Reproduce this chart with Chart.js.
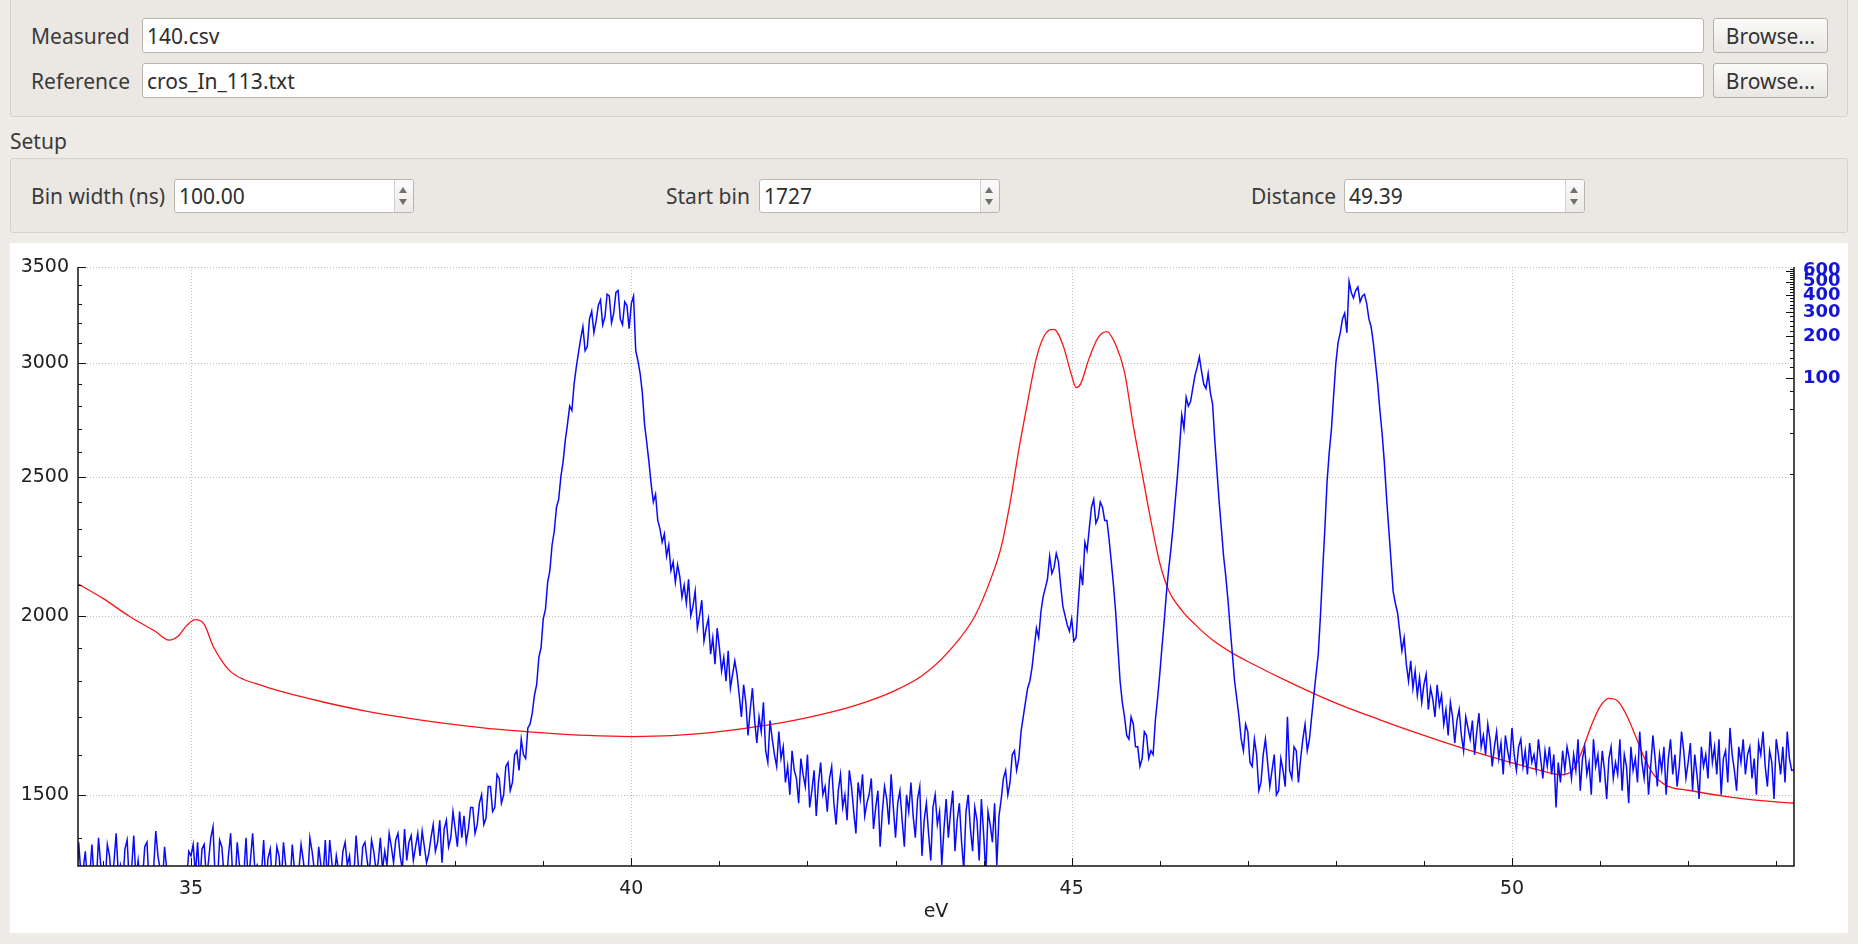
<!DOCTYPE html>
<html>
<head>
<meta charset="utf-8">
<script src="https://cdn.jsdelivr.net/npm/chart.js@4.4.1/dist/chart.umd.min.js"></script>
<style>
  html,body{margin:0;padding:0;}
  body{width:1858px;height:944px;background:#efece8;position:relative;overflow:hidden;
       font-family:"Noto Sans","Open Sans",sans-serif;font-size:21px;color:#3a3a3a;}
  .box{position:absolute;border:1px solid #d6d2cc;border-radius:3px;background:#ebe8e4;box-sizing:border-box;}
  .lbl{position:absolute;line-height:26px;white-space:nowrap;}
  .field{position:absolute;background:#fff;border:1px solid #b9b5af;border-radius:3px;box-sizing:border-box;}
  .field span{position:absolute;left:4px;top:50%;transform:translateY(-50%);line-height:26px;color:#2e2e2e;white-space:nowrap;}
  .btn{position:absolute;border:1px solid #b3afa9;border-radius:3px;box-sizing:border-box;
       background:linear-gradient(#fbfbfa,#e9e7e4);text-align:center;color:#333;}
  .btn span{position:absolute;left:0;right:0;top:50%;transform:translateY(-50%);line-height:26px;}
  .arr{position:absolute;right:0;top:0;bottom:0;width:18px;border-left:1px solid #d3cfca;background:linear-gradient(#fbfbfb,#eceae7);border-radius:0 3px 3px 0;}
  .up{position:absolute;left:4px;top:7px;width:0;height:0;border-left:4px solid transparent;border-right:4px solid transparent;border-bottom:6px solid #707070;}
  .dn{position:absolute;left:4px;bottom:7px;width:0;height:0;border-left:4px solid transparent;border-right:4px solid transparent;border-top:6px solid #707070;}
  #plotPanel{position:absolute;left:10px;top:243px;width:1838px;height:690px;background:#fff;}
  #c{position:absolute;left:0;top:0;}
</style>
</head>
<body>
<div class="box" style="left:10px;top:-8px;width:1838px;height:125px;"></div>
<div class="lbl" style="left:31px;top:23px;">Measured</div>
<div class="field" style="left:142px;top:18px;width:1562px;height:35px;"><span>140.csv</span></div>
<div class="btn" style="left:1713px;top:18px;width:115px;height:35px;"><span>Browse...</span></div>
<div class="lbl" style="left:31px;top:68px;">Reference</div>
<div class="field" style="left:142px;top:63px;width:1562px;height:35px;"><span>cros_In_113.txt</span></div>
<div class="btn" style="left:1713px;top:63px;width:115px;height:35px;"><span>Browse...</span></div>

<div class="lbl" style="left:10px;top:128px;">Setup</div>
<div class="box" style="left:10px;top:158px;width:1838px;height:75px;"></div>
<div class="lbl" style="left:31px;top:183px;">Bin width (ns)</div>
<div class="field" style="left:174px;top:179px;width:240px;height:34px;"><span>100.00</span><div class="arr"><i class="up"></i><i class="dn"></i></div></div>
<div class="lbl" style="left:666px;top:183px;">Start bin</div>
<div class="field" style="left:759px;top:179px;width:241px;height:34px;"><span>1727</span><div class="arr"><i class="up"></i><i class="dn"></i></div></div>
<div class="lbl" style="left:1251px;top:183px;">Distance</div>
<div class="field" style="left:1344px;top:179px;width:241px;height:34px;"><span>49.39</span><div class="arr"><i class="up"></i><i class="dn"></i></div></div>

<div id="plotPanel"><canvas id="c" width="1838" height="690"></canvas></div>

<script>
// ---------- data ----------
const xMajor = [35, 40, 45, 50];
const xMinor = [34, 36, 37, 38, 39, 41, 42, 43, 44, 46, 47, 48, 49, 51, 52, 53];
const yMajor = [1500, 2000, 2500, 3000, 3500];
const yMinor = [1400, 1600, 1700, 1800, 1900, 2100, 2200, 2300, 2400, 2600, 2700, 2800, 2900, 3100, 3200, 3300, 3400];
const y2Major = [100, 200, 300, 400, 500, 600];
const y2Minor = [20, 40, 60, 80, 120, 140, 160, 180, 220, 240, 260, 280, 320, 340, 360, 380, 420, 440, 460, 480, 520, 540, 560, 580, 620];

// Reference cross-section (red)
const redEv = [33.72, 34.0, 34.3, 34.6, 34.75, 34.85, 34.95, 35.05, 35.15, 35.25, 35.35, 35.45, 35.6, 35.8, 36.0, 36.5, 37.0, 37.5, 38.0, 38.5,
  39.0, 39.5, 40.0, 40.5, 41.0, 41.5, 42.0, 42.5, 43.0, 43.3, 43.6, 43.9, 44.1, 44.2, 44.3, 44.4, 44.5, 44.6, 44.7, 44.8,
  44.9, 45.0, 45.05, 45.1, 45.2, 45.3, 45.4, 45.5, 45.6, 45.7, 45.8, 45.9, 46.0, 46.1, 46.25, 46.4, 46.6, 46.8, 47.0, 47.5,
  48.0, 48.5, 49.0, 49.5, 50.0, 50.3, 50.55, 50.7, 50.8, 50.9, 51.0, 51.1, 51.2, 51.3, 51.4, 51.5, 51.6, 51.75, 52.0, 52.5,
  53.0, 53.23];
const redVal = [2104, 2056, 1998, 1949, 1923, 1934, 1968, 1987, 1972, 1905, 1860, 1828, 1805, 1788, 1772, 1741, 1715, 1695, 1679, 1666,
  1657, 1650, 1647, 1650, 1660, 1676, 1698, 1728, 1774, 1816, 1887, 1998, 2136, 2233, 2396, 2611, 2818, 3025, 3143, 3167,
  3089, 2940, 2884, 2900, 3025, 3125, 3155, 3089, 2957, 2712, 2513, 2328, 2177, 2084, 2017, 1972, 1923, 1887, 1858, 1794,
  1738, 1692, 1650, 1612, 1579, 1561, 1549, 1564, 1612, 1676, 1728, 1751, 1744, 1705, 1650, 1593, 1552, 1523, 1511, 1494,
  1483, 1480];

// Measured spectrum (blue)
const blueEv = [
  33.7,33.725,33.75,33.775,33.8,33.825,33.85,33.875,33.9,33.925,33.95,33.975,34,34.025,34.05,34.075,34.1,34.125,34.15,34.175,
  34.2,34.225,34.25,34.275,34.3,34.325,34.35,34.375,34.4,34.425,34.45,34.475,34.5,34.525,34.55,34.575,34.6,34.625,34.65,34.675,
  34.7,34.725,34.75,34.775,34.8,34.825,34.85,34.875,34.9,34.925,34.95,34.975,35,35.025,35.05,35.075,35.1,35.125,35.15,35.175,
  35.2,35.225,35.25,35.275,35.3,35.325,35.35,35.375,35.4,35.425,35.45,35.475,35.5,35.525,35.55,35.575,35.6,35.625,35.65,35.675,
  35.7,35.725,35.75,35.775,35.8,35.825,35.85,35.875,35.9,35.925,35.95,35.975,36,36.025,36.05,36.075,36.1,36.125,36.15,36.175,
  36.2,36.225,36.25,36.275,36.3,36.325,36.35,36.375,36.4,36.425,36.45,36.475,36.5,36.525,36.55,36.575,36.6,36.625,36.65,36.675,
  36.7,36.725,36.75,36.775,36.8,36.825,36.85,36.875,36.9,36.925,36.95,36.975,37,37.025,37.05,37.075,37.1,37.125,37.15,37.175,
  37.2,37.225,37.25,37.275,37.3,37.325,37.35,37.375,37.4,37.425,37.45,37.475,37.5,37.525,37.55,37.575,37.6,37.625,37.65,37.675,
  37.7,37.725,37.75,37.775,37.8,37.825,37.85,37.875,37.9,37.925,37.95,37.975,38,38.025,38.05,38.075,38.1,38.125,38.15,38.175,
  38.2,38.225,38.25,38.275,38.3,38.325,38.35,38.375,38.4,38.425,38.45,38.475,38.5,38.525,38.55,38.575,38.6,38.625,38.65,38.675,
  38.7,38.725,38.75,38.775,38.8,38.825,38.85,38.875,38.9,38.925,38.95,38.975,39,39.025,39.05,39.075,39.1,39.125,39.15,39.175,
  39.2,39.225,39.25,39.275,39.3,39.325,39.35,39.375,39.4,39.425,39.45,39.475,39.5,39.525,39.55,39.575,39.6,39.625,39.65,39.675,
  39.7,39.725,39.75,39.775,39.8,39.825,39.85,39.875,39.9,39.925,39.95,39.975,40,40.025,40.05,40.075,40.1,40.125,40.15,40.175,
  40.2,40.225,40.25,40.275,40.3,40.325,40.35,40.375,40.4,40.425,40.45,40.475,40.5,40.525,40.55,40.575,40.6,40.625,40.65,40.675,
  40.7,40.725,40.75,40.775,40.8,40.825,40.85,40.875,40.9,40.925,40.95,40.975,41,41.025,41.05,41.075,41.1,41.125,41.15,41.175,
  41.2,41.225,41.25,41.275,41.3,41.325,41.35,41.375,41.4,41.425,41.45,41.475,41.5,41.525,41.55,41.575,41.6,41.625,41.65,41.675,
  41.7,41.725,41.75,41.775,41.8,41.825,41.85,41.875,41.9,41.925,41.95,41.975,42,42.025,42.05,42.075,42.1,42.125,42.15,42.175,
  42.2,42.225,42.25,42.275,42.3,42.325,42.35,42.375,42.4,42.425,42.45,42.475,42.5,42.525,42.55,42.575,42.6,42.625,42.65,42.675,
  42.7,42.725,42.75,42.775,42.8,42.825,42.85,42.875,42.9,42.925,42.95,42.975,43,43.025,43.05,43.075,43.1,43.125,43.15,43.175,
  43.2,43.225,43.25,43.275,43.3,43.325,43.35,43.375,43.4,43.425,43.45,43.475,43.5,43.525,43.55,43.575,43.6,43.625,43.65,43.675,
  43.7,43.725,43.75,43.775,43.8,43.825,43.85,43.875,43.9,43.925,43.95,43.975,44,44.025,44.05,44.075,44.1,44.125,44.15,44.175,
  44.2,44.225,44.25,44.275,44.3,44.325,44.35,44.375,44.4,44.425,44.45,44.475,44.5,44.525,44.55,44.575,44.6,44.625,44.65,44.675,
  44.7,44.725,44.75,44.775,44.8,44.825,44.85,44.875,44.9,44.925,44.95,44.975,45,45.025,45.05,45.075,45.1,45.125,45.15,45.175,
  45.2,45.225,45.25,45.275,45.3,45.325,45.35,45.375,45.4,45.425,45.45,45.475,45.5,45.525,45.55,45.575,45.6,45.625,45.65,45.675,
  45.7,45.725,45.75,45.775,45.8,45.825,45.85,45.875,45.9,45.925,45.95,45.975,46,46.025,46.05,46.075,46.1,46.125,46.15,46.175,
  46.2,46.225,46.25,46.275,46.3,46.325,46.35,46.375,46.4,46.425,46.45,46.475,46.5,46.525,46.55,46.575,46.6,46.625,46.65,46.675,
  46.7,46.725,46.75,46.775,46.8,46.825,46.85,46.875,46.9,46.925,46.95,46.975,47,47.025,47.05,47.075,47.1,47.125,47.15,47.175,
  47.2,47.225,47.25,47.275,47.3,47.325,47.35,47.375,47.4,47.425,47.45,47.475,47.5,47.525,47.55,47.575,47.6,47.625,47.65,47.675,
  47.7,47.725,47.75,47.775,47.8,47.825,47.85,47.875,47.9,47.925,47.95,47.975,48,48.025,48.05,48.075,48.1,48.125,48.15,48.175,
  48.2,48.225,48.25,48.275,48.3,48.325,48.35,48.375,48.4,48.425,48.45,48.475,48.5,48.525,48.55,48.575,48.6,48.625,48.65,48.675,
  48.7,48.725,48.75,48.775,48.8,48.825,48.85,48.875,48.9,48.925,48.95,48.975,49,49.025,49.05,49.075,49.1,49.125,49.15,49.175,
  49.2,49.225,49.25,49.275,49.3,49.325,49.35,49.375,49.4,49.425,49.45,49.475,49.5,49.525,49.55,49.575,49.6,49.625,49.65,49.675,
  49.7,49.725,49.75,49.775,49.8,49.825,49.85,49.875,49.9,49.925,49.95,49.975,50,50.025,50.05,50.075,50.1,50.125,50.15,50.175,
  50.2,50.225,50.25,50.275,50.3,50.325,50.35,50.375,50.4,50.425,50.45,50.475,50.5,50.525,50.55,50.575,50.6,50.625,50.65,50.675,
  50.7,50.725,50.75,50.775,50.8,50.825,50.85,50.875,50.9,50.925,50.95,50.975,51,51.025,51.05,51.075,51.1,51.125,51.15,51.175,
  51.2,51.225,51.25,51.275,51.3,51.325,51.35,51.375,51.4,51.425,51.45,51.475,51.5,51.525,51.55,51.575,51.6,51.625,51.65,51.675,
  51.7,51.725,51.75,51.775,51.8,51.825,51.85,51.875,51.9,51.925,51.95,51.975,52,52.025,52.05,52.075,52.1,52.125,52.15,52.175,
  52.2,52.225,52.25,52.275,52.3,52.325,52.35,52.375,52.4,52.425,52.45,52.475,52.5,52.525,52.55,52.575,52.6,52.625,52.65,52.675,
  52.7,52.725,52.75,52.775,52.8,52.825,52.85,52.875,52.9,52.925,52.95,52.975,53,53.025,53.05,53.075,53.1,53.125,53.15,53.175,
  53.2,53.225,53.25];
const blueVal = [
  1300,1390,1320,1330,1370,1300,1315,1385,1310,1300,1400,1340,1330,1300,1385,1360,1300,1345,1410,1320,
  1340,1300,1375,1395,1300,1330,1405,1310,1350,1300,1310,1380,1390,1300,1300,1330,1415,1360,1330,1300,
  1380,1330,1300,1300,1300,1300,1300,1300,1300,1300,1305,1370,1360,1385,1320,1390,1300,1375,1385,1310,
  1350,1400,1425,1310,1300,1395,1380,1320,1300,1360,1410,1310,1300,1390,1340,1300,1320,1400,1300,1350,
  1410,1330,1340,1300,1320,1395,1300,1355,1375,1300,1310,1380,1360,1300,1390,1340,1320,1300,1385,1330,
  1300,1330,1385,1350,1310,1305,1400,1370,1330,1300,1380,1340,1315,1395,1300,1395,1345,1310,1360,1330,
  1310,1370,1390,1340,1360,1300,1320,1405,1340,1310,1380,1390,1350,1320,1395,1370,1330,1345,1400,1330,
  1370,1340,1410,1380,1345,1395,1410,1360,1330,1420,1350,1390,1405,1350,1380,1410,1360,1415,1380,1345,
  1365,1400,1430,1370,1390,1440,1345,1420,1440,1380,1400,1460,1420,1380,1460,1400,1450,1390,1420,1470,
  1470,1410,1430,1480,1500,1430,1445,1520,1520,1460,1470,1550,1540,1480,1500,1570,1580,1510,1530,1600,
  1610,1560,1640,1600,1590,1670,1680,1710,1760,1790,1870,1900,1990,2020,2110,2150,2240,2290,2380,2410,
  2500,2560,2650,2720,2800,2780,2900,2980,3050,3120,3180,3060,3080,3220,3260,3150,3210,3290,3320,3190,
  3230,3350,3340,3200,3250,3360,3370,3220,3190,3310,3290,3170,3300,3340,3060,3010,2950,2860,2720,2640,
  2560,2470,2400,2430,2330,2300,2250,2280,2200,2240,2150,2180,2110,2170,2130,2060,2100,2040,2120,2000,
  2030,2080,1960,2000,2050,1920,1960,1990,1880,1930,1850,1960,1900,1830,1870,1800,1890,1780,1820,1860,
  1820,1760,1700,1790,1740,1650,1720,1780,1690,1630,1700,1660,1740,1610,1580,1690,1640,1600,1570,1660,
  1590,1620,1530,1570,1500,1610,1560,1540,1480,1590,1550,1520,1600,1470,1510,1560,1450,1530,1580,1500,
  1520,1460,1540,1570,1480,1430,1510,1550,1470,1500,1440,1560,1520,1460,1410,1530,1490,1550,1450,1480,
  1500,1540,1420,1470,1510,1380,1460,1520,1490,1430,1550,1470,1400,1480,1510,1440,1380,1500,1460,1530,
  1450,1400,1490,1520,1360,1440,1480,1410,1350,1470,1500,1430,1460,1340,1420,1490,1400,1460,1510,1370,
  1440,1480,1390,1330,1460,1500,1420,1370,1470,1440,1350,1490,1410,1320,1460,1430,1390,1480,1340,1450,
  1490,1540,1560,1500,1530,1600,1610,1560,1590,1660,1700,1740,1780,1800,1840,1900,1960,1930,2010,2060,
  2090,2120,2200,2140,2160,2210,2180,2100,2030,2000,1970,1950,1990,1920,1930,2040,2150,2100,2250,2220,
  2300,2380,2410,2320,2340,2400,2380,2330,2330,2260,2180,2100,2010,1900,1800,1740,1700,1650,1640,1700,
  1680,1620,1620,1570,1590,1660,1650,1590,1610,1600,1690,1750,1820,1900,1980,2070,2150,2220,2300,2400,
  2500,2620,2760,2700,2840,2800,2820,2880,2940,2980,3030,2960,2900,2880,2950,2860,2810,2650,2520,2400,
  2300,2200,2130,2050,1960,1880,1800,1750,1700,1640,1610,1680,1660,1580,1570,1640,1600,1510,1530,1600,
  1640,1580,1520,1560,1600,1500,1510,1590,1560,1520,1700,1560,1540,1620,1610,1530,1590,1640,1680,1610,
  1640,1700,1760,1820,1880,2000,2150,2300,2480,2600,2700,2850,3000,3100,3150,3220,3250,3150,3420,3360,
  3330,3370,3390,3310,3340,3350,3300,3220,3180,3100,3000,2900,2780,2680,2560,2420,2300,2190,2080,2040,
  2010,1950,1890,1930,1850,1800,1860,1780,1830,1760,1810,1740,1790,1820,1720,1780,1750,1700,1790,1730,
  1760,1680,1720,1650,1740,1700,1630,1690,1720,1650,1610,1700,1670,1640,1690,1600,1660,1710,1620,1650,
  1600,1680,1640,1570,1620,1660,1590,1630,1550,1650,1610,1580,1670,1600,1560,1620,1640,1570,1610,1550,
  1630,1580,1600,1560,1640,1590,1540,1610,1570,1620,1550,1600,1470,1580,1530,1610,1560,1620,1590,1540,
  1600,1560,1640,1510,1590,1620,1550,1580,1500,1640,1570,1600,1530,1610,1560,1490,1590,1620,1540,1580,
  1550,1640,1510,1600,1570,1480,1620,1560,1590,1530,1660,1580,1540,1610,1500,1570,1650,1590,1520,1600,
  1560,1620,1500,1590,1640,1550,1600,1520,1570,1660,1610,1540,1580,1630,1510,1600,1550,1490,1620,1570,
  1600,1540,1660,1580,1620,1550,1640,1500,1590,1610,1530,1670,1600,1560,1510,1620,1580,1640,1550,1600,
  1620,1540,1590,1500,1630,1600,1660,1570,1520,1610,1580,1490,1640,1600,1550,1620,1530,1660,1590,1560,
  1560,1600,1590];

// ---------- chart ----------
const axisFont = {family: "'DejaVu Sans', sans-serif", size: 19};
const qwtAxes = {
  id: 'qwtAxes',
  beforeDatasetsDraw(chart) {
    const {ctx, chartArea: a, scales} = chart;
    ctx.save();
    ctx.strokeStyle = '#bdbdbd';
    ctx.lineWidth = 1;
    ctx.setLineDash([1, 2]);
    ctx.beginPath();
    xMajor.forEach(v => {
      const px = Math.round(scales.x.getPixelForValue(v)) + 0.5;
      ctx.moveTo(px, a.top); ctx.lineTo(px, a.bottom);
    });
    yMajor.forEach(v => {
      const py = Math.round(scales.y.getPixelForValue(v)) + 0.5;
      ctx.moveTo(a.left, py); ctx.lineTo(a.right, py);
    });
    ctx.stroke();
    ctx.restore();
  },
  afterDatasetsDraw(chart) {
    const {ctx, chartArea: a, scales} = chart;
    ctx.save();
    ctx.strokeStyle = '#101010';
    ctx.lineWidth = 1.5;
    ctx.beginPath();
    const L = Math.round(a.left), R = Math.round(a.right), B = Math.round(a.bottom), T = Math.round(a.top);
    ctx.moveTo(L, T); ctx.lineTo(L, B); ctx.lineTo(R, B); ctx.lineTo(R, T);
    ctx.stroke();
    ctx.lineWidth = 1;
    ctx.beginPath();
    const tick = (list, scale, len, side) => list.forEach(v => {
      const p = Math.round(scale.getPixelForValue(v)) + 0.5;
      if (side === 'b') { ctx.moveTo(p, B); ctx.lineTo(p, B - len); }
      if (side === 'l') { ctx.moveTo(L, p); ctx.lineTo(L + len, p); }
      if (side === 'r') { ctx.moveTo(R, p); ctx.lineTo(R - len, p); }
    });
    tick(xMajor, scales.x, 8, 'b'); tick(xMinor, scales.x, 5, 'b');
    tick(yMajor, scales.y, 8, 'l'); tick(yMinor, scales.y, 4, 'l');
    tick(y2Major, scales.y2, 8, 'r'); tick(y2Minor, scales.y2, 4, 'r');
    ctx.stroke();
    ctx.restore();
  }
};

const noGrid = {display: false, drawTicks: false, tickLength: 0};

new Chart(document.getElementById('c').getContext('2d'), {
  type: 'line',
  data: {
    datasets: [
      {label: 'Measured', data: blueEv.map((x, i) => ({x: x, y: blueVal[i]})), yAxisID: 'y',
       borderColor: 'rgb(10,10,250)', borderWidth: 1.5, pointRadius: 0, tension: 0},
      {label: 'Reference', data: redEv.map((x, i) => ({x: x, y: redVal[i]})), yAxisID: 'y',
       borderColor: 'rgb(250,20,20)', borderWidth: 1.3, pointRadius: 0, cubicInterpolationMode: 'monotone'}
    ]
  },
  options: {
    responsive: false, animation: false, devicePixelRatio: 1,
    layout: {padding: {top: 24, left: 0, right: 0, bottom: 0}},
    plugins: {legend: {display: false}, tooltip: {enabled: false}},
    scales: {
      x: {type: 'linear', min: 33.717, max: 53.202,
          afterFit(s) { s.height = 67; },
          afterBuildTicks(s) { s.ticks = xMajor.map(v => ({value: v})); },
          grid: noGrid, border: {display: false},
          ticks: {padding: 12, font: axisFont, color: '#202020', maxRotation: 0, autoSkip: false,
                  callback: v => String(v)},
          title: {display: true, text: 'eV', font: axisFont, color: '#202020', padding: {top: 0, bottom: 10}}},
      y: {type: 'logarithmic', position: 'left', min: 1338, max: 3500,
          afterFit(s) { s.width = 68; },
          afterBuildTicks(s) { s.ticks = yMajor.map(v => ({value: v})); },
          grid: noGrid, border: {display: false},
          ticks: {padding: 9, font: axisFont, color: '#202020', autoSkip: false, callback: v => String(v)}},
      y2: {type: 'logarithmic', position: 'right', min: 0.0291, max: 637.5,
          afterFit(s) { s.width = 54; },
          afterBuildTicks(s) { s.ticks = y2Major.map(v => ({value: v})); },
          grid: noGrid, border: {display: false},
          ticks: {padding: 9, font: {family: "'DejaVu Sans', sans-serif", size: 18, weight: 'bold'},
                  color: 'rgb(20,20,215)', autoSkip: false, callback: v => String(v)}}
    }
  },
  plugins: [qwtAxes]
});
</script>
</body>
</html>
